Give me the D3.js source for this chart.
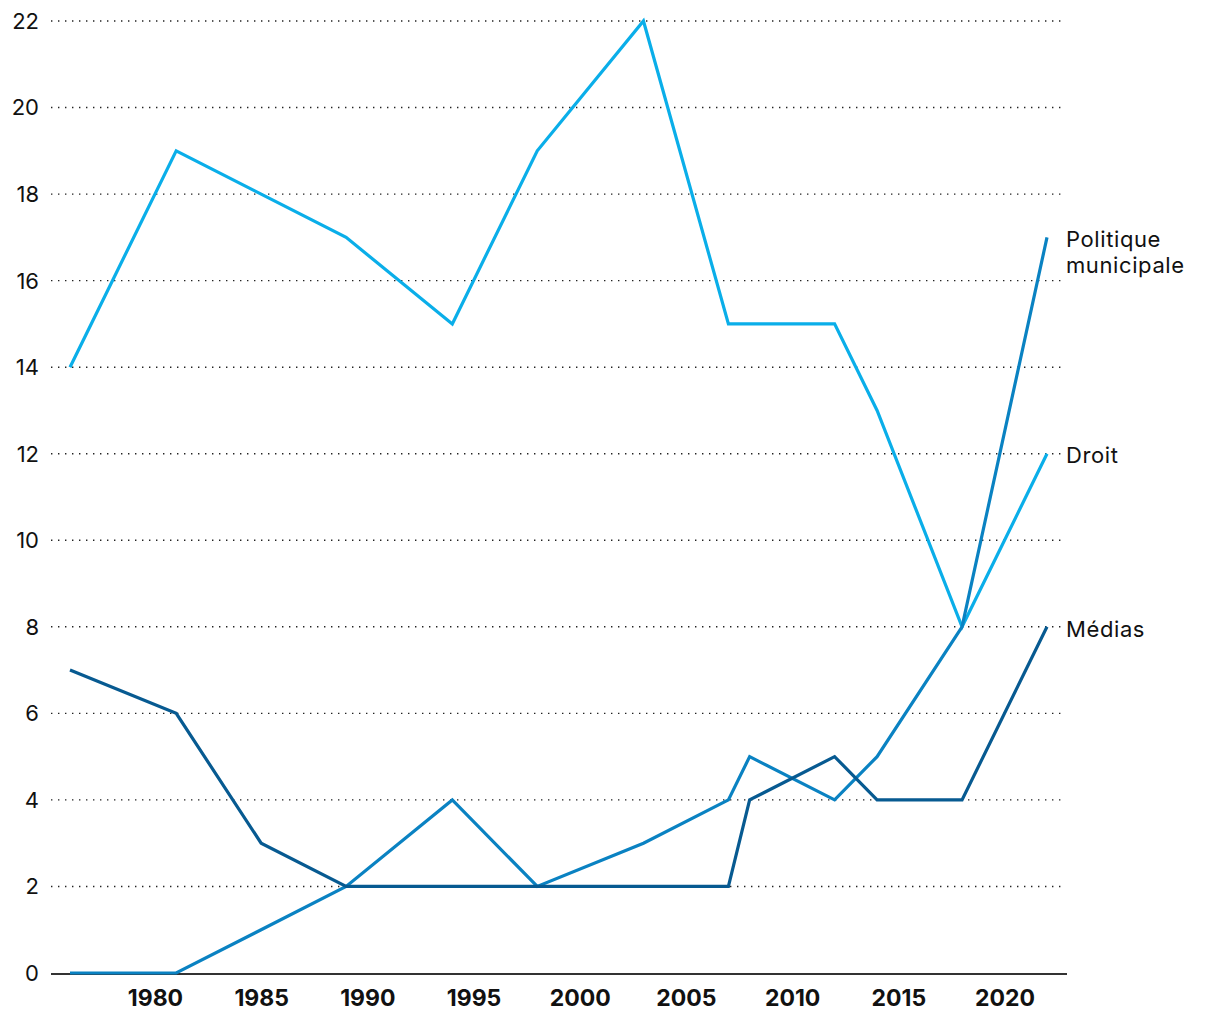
<!DOCTYPE html>
<html><head><meta charset="utf-8">
<script src="https://cdn.jsdelivr.net/npm/d3@7"></script>
<style>body{margin:0;background:#fff;} svg{display:block;}</style>
</head><body>
<script>
const years = [1976,1981,1985,1989,1994,1998,2003,2007,2008,2012,2014,2018,2022];
const droit = [14,19,18,17,15,19,22,15,15,15,13,8,12];
const politiqueMunicipale = [0,0,1,2,4,2,3,4,5,4,5,8,17];
const medias = [7,6,3,2,2,2,2,2,4,5,4,4,8];
const xTicks = [1980,1985,1990,1995,2000,2005,2010,2015,2020];
const yTicks = [0,2,4,6,8,10,12,14,16,18,20,22];
const seriesNames = ["Droit","Politique municipale","Médias"];
const seriesColors = ["#0aaee9","#0a82c2","#075a91"];

const W=1220,H=1020;
const svg=d3.select("body").append("svg").attr("width",W).attr("height",H);
const x=d3.scaleLinear().domain([1976,2022]).range([70,1047]);
const y=d3.scaleLinear().domain([0,22]).range([973,21]);
const font="Inter, 'Noto Sans', sans-serif";

// grid
svg.append("g").selectAll("line").data(yTicks.filter(d=>d>0)).join("line")
  .attr("x1",51).attr("x2",1066).attr("y1",d=>y(d)).attr("y2",d=>y(d))
  .attr("stroke","#222").attr("stroke-width",1.4).attr("stroke-dasharray","1.4,5.6");

// y labels
svg.append("g").selectAll("text").data(yTicks).join("text")
  .attr("x",39).attr("y",d=>y(d)).attr("dy","0.36em").attr("text-anchor","end")
  .attr("font-family",font).attr("font-size",22).attr("fill","#111").text(d=>d);

// x axis
const xAxis=d3.axisBottom(x).tickValues(xTicks).tickSize(0).tickPadding(17).tickFormat(d3.format("d"));
const gx=svg.append("g").attr("transform",`translate(0,${y(0)})`).call(xAxis);
gx.select(".domain").remove();
gx.selectAll("text").attr("font-family",font).attr("font-size",23).attr("font-weight",700).attr("fill","#111");
svg.append("line").attr("x1",51).attr("x2",1067).attr("y1",y(0)+1).attr("y2",y(0)+1)
  .attr("stroke","#333").attr("stroke-width",2);

const data=[droit,politiqueMunicipale,medias];
const line=d3.line().x((d,i)=>x(years[i])).y(d=>y(d));
data.forEach((s,k)=>{
  svg.append("path").datum(s).attr("d",line).attr("fill","none")
    .attr("stroke",seriesColors[k]).attr("stroke-width",3.2).attr("stroke-linejoin","miter");
});

// labels
const lab=svg.append("g").attr("font-family",font).attr("font-size",22).attr("letter-spacing",0.6).attr("fill","#111");
lab.append("text").attr("x",1066).attr("y",y(17)+10).text("Politique");
lab.append("text").attr("x",1066).attr("y",y(17)+36).text("municipale");
lab.append("text").attr("x",1066).attr("y",y(12)+9).text("Droit");
lab.append("text").attr("x",1066).attr("y",y(8)+10).text("Médias");
</script>
</body></html>
